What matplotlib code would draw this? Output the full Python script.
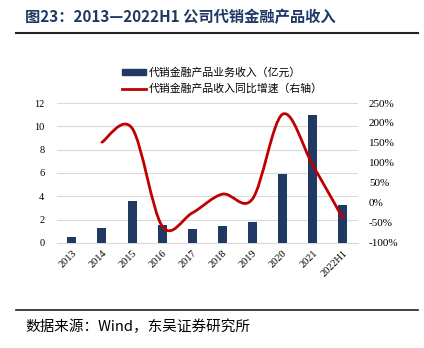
import matplotlib
matplotlib.use("Agg")
import matplotlib.pyplot as plt
from matplotlib.path import Path
from matplotlib.patches import PathPatch
from matplotlib.lines import Line2D
import matplotlib.patches as mpatches
import numpy as np

years = ["2013", "2014", "2015", "2016", "2017", "2018", "2019", "2020", "2021", "2022H1"]
revenue = [0.5, 1.3, 3.6, 1.55, 1.2, 1.45, 1.8, 5.9, 10.95, 3.25]   # 亿元
growth_years = years[1:]
growth = [152, 187, -58, -25, 22, 10, 222, 95, -38]                  # %

navy = "#1f3864"
red = "#c00000"
cjk = ["Noto Sans CJK SC", "DejaVu Sans"]
serif = ["Liberation Serif", "Noto Sans CJK SC"]

fig = plt.figure(figsize=(4.24, 3.48), dpi=100)
ax1 = fig.add_axes([0.134, 0.302, 0.710, 0.402])
ax2 = ax1.twinx()

x = np.arange(len(years))
ax1.bar(x, revenue, 0.3, color=navy, zorder=3)
ax1.set_ylim(0, 12)
ax1.set_yticks(range(0, 13, 2))
ax1.set_xlim(-0.5, len(years) - 0.5)
ax1.grid(axis="y", color="#d9d9d9", lw=0.8, zorder=0)
ax1.set_axisbelow(True)
ax1.set_xticks(x)
ax1.set_xticklabels(years, rotation=45, ha="right", rotation_mode="anchor",
                    fontsize=7.5, family=serif)
for t in ax1.get_yticklabels():
    t.set_fontsize(7.5)
    t.set_family(serif)
ax1.tick_params(length=0, pad=9)
ax1.tick_params(axis="x", pad=4)

# smoothed line (Catmull-Rom style bezier, as in Excel)
gx = x[1:].astype(float)
gy = np.array(growth, dtype=float)
verts = [(gx[0], gy[0])]
codes = [Path.MOVETO]
n = len(gx)
for i in range(n - 1):
    p0 = (gx[max(i - 1, 0)], gy[max(i - 1, 0)])
    p1 = (gx[i], gy[i])
    p2 = (gx[i + 1], gy[i + 1])
    p3 = (gx[min(i + 2, n - 1)], gy[min(i + 2, n - 1)])
    c1 = (p1[0] + (p2[0] - p0[0]) / 6, p1[1] + (p2[1] - p0[1]) / 6)
    c2 = (p2[0] - (p3[0] - p1[0]) / 6, p2[1] - (p3[1] - p1[1]) / 6)
    verts += [c1, c2, p2]
    codes += [Path.CURVE4] * 3
ax2.add_patch(PathPatch(Path(verts, codes), facecolor="none", edgecolor=red,
                        lw=2, zorder=4, capstyle="round"))
ax2.set_ylim(-100, 250)
ax2.set_yticks(range(-100, 251, 50))
ax2.set_yticklabels([f"{v}%" for v in range(-100, 251, 50)], fontsize=8, family=serif)
ax2.tick_params(length=0, pad=8)

for a in (ax1, ax2):
    for s in a.spines.values():
        s.set_visible(False)
ax1.spines["bottom"].set_visible(True)
ax1.spines["bottom"].set_color("#d9d9d9")

handles = [mpatches.Patch(color=navy, label="代销金融产品业务收入（亿元）"),
           Line2D([], [], color=red, lw=2, label="代销金融产品收入同比增速（右轴）")]
fig.legend(handles=handles, loc="upper left", bbox_to_anchor=(0.265, 0.835),
           frameon=False, prop={"family": cjk, "size": 7.8},
           handlelength=2.2, handleheight=0.5, labelspacing=0.55, handletextpad=0.3)

fig.text(0.06, 0.951, "图23：2013—2022H1 公司代销金融产品收入", fontsize=11,
         fontweight="bold", color=navy, family=cjk, va="center")
fig.add_artist(Line2D([0.038, 0.986], [0.905, 0.905], color="#222222", lw=1.5))
fig.add_artist(Line2D([0.038, 0.986], [0.110, 0.110], color="#222222", lw=1.2))
fig.text(0.06, 0.060, "数据来源：Wind，东吴证券研究所", fontsize=10.5,
         color="black", family=cjk, va="center")

fig.savefig("out.png", dpi=100)
